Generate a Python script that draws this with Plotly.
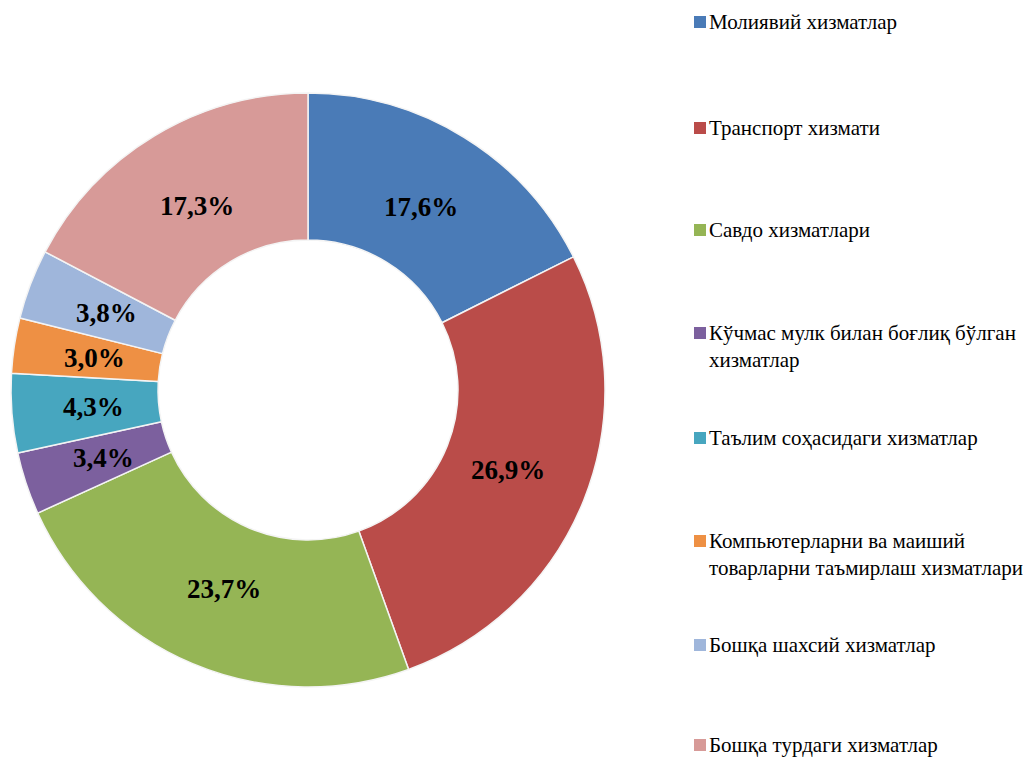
import math
import plotly.graph_objects as go

categories = [
    "Молиявий хизматлар",
    "Транспорт хизмати",
    "Савдо хизматлари",
    "Кўчмас мулк билан боғлиқ бўлган<br>хизматлар",
    "Таълим соҳасидаги хизматлар",
    "Компьютерларни ва маиший<br>товарларни таъмирлаш хизматлари",
    "Бошқа шахсий хизматлар",
    "Бошқа турдаги хизматлар",
]
values = [17.6, 26.9, 23.7, 3.4, 4.3, 3.0, 3.8, 17.3]
colors = ["#4A7BB7", "#BA4C49", "#95B555", "#7C609E", "#47A6BF", "#EE9044", "#9FB6DB", "#D79A98"]

# figure size (page body has an 8px margin)
W, H = 1024, 750
OFF = 8
cx, cy, R = 300, 382, 297
HOLE = 0.505
fig = go.Figure()
fig.add_trace(go.Pie(
    labels=[c.replace("<br>", " ") for c in categories],
    values=values,
    sort=False,
    direction="clockwise",
    hole=HOLE,
    marker=dict(colors=colors, line=dict(color="#F4F4F4", width=1.5)),
    textinfo="none",
    showlegend=False,
    domain=dict(x=[(cx - R) / W, (cx + R) / W], y=[(H - cy - R) / H, (H - cy + R) / H]),
))

annotations = []
shapes = []

# percentage labels placed in the middle of the ring, following the slice angles
total = sum(values)
rmid = R * (1 + HOLE) / 2 - 8
cum = 0.0
for v in values:
    ang = 2 * math.pi * (cum + v / 2) / total
    cum += v
    px = cx + rmid * math.sin(ang)
    py = cy - rmid * math.cos(ang)
    annotations.append(dict(
        x=px / W, y=1 - py / H, xref="paper", yref="paper",
        xanchor="center", yanchor="middle", showarrow=False,
        text=f"{v:.1f}%".replace(".", ","),
        font=dict(family="Liberation Serif", size=27, color="black", weight="bold"),
    ))

# manual legend (row centres of first text line, in page pixels)
first_line_y = [22, 128, 230, 333, 438, 541, 645, 745]
for cat, col, yc in zip(categories, colors, first_line_y):
    yf = yc - OFF
    annotations.append(dict(
        x=699 / W, y=1 - (yf - 14) / H, xref="paper", yref="paper",
        xanchor="left", yanchor="top", align="left", showarrow=False,
        text=cat, font=dict(family="Liberation Serif", size=21, color="black"),
    ))
    shapes.append(dict(
        type="rect", xref="paper", yref="paper",
        x0=(694 - OFF) / W, x1=(706 - OFF) / W, y0=1 - (yf + 6) / H, y1=1 - (yf - 6) / H,
        fillcolor=col, line=dict(color=col, width=0),
    ))

fig.update_layout(
    width=W, height=H,
    margin=dict(l=0, r=0, t=0, b=0),
    paper_bgcolor="white", plot_bgcolor="white",
    annotations=annotations, shapes=shapes,
)
fig.write_html("out.html")
